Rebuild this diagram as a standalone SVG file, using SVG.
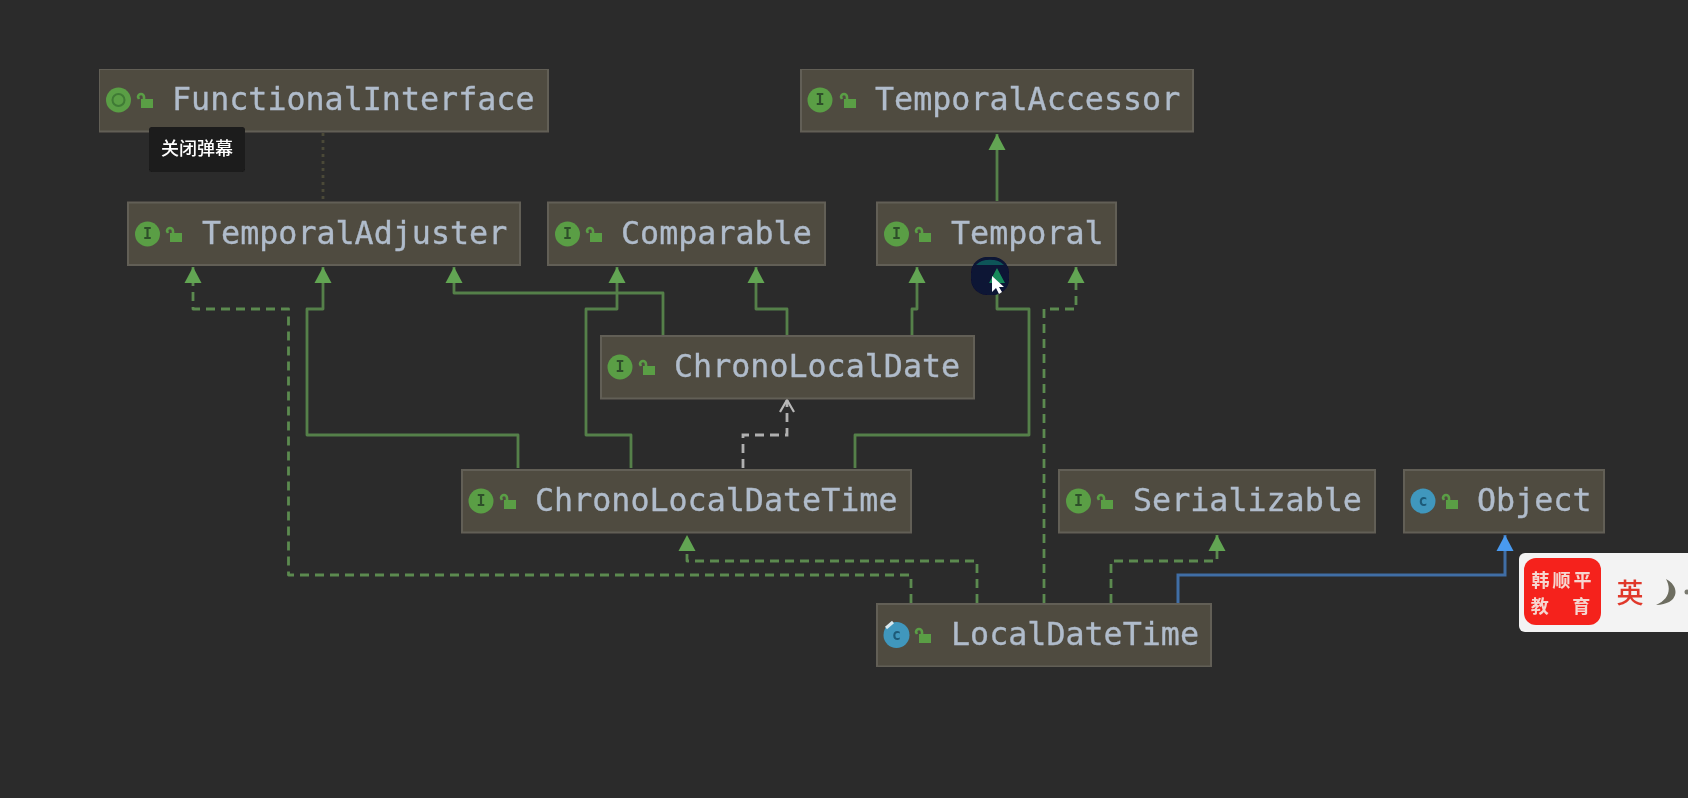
<svg xmlns="http://www.w3.org/2000/svg" width="1688" height="798" viewBox="0 0 1688 798">
<style>
.box{fill:#4f4b40;stroke:#625f57;stroke-width:2}
.lbl{font-family:"DejaVu Sans Mono","Liberation Mono",monospace;font-size:31.7px;fill:#b0bccb;stroke:#b0bccb;stroke-width:0.35}
.ico{font-family:"DejaVu Sans Mono",monospace;font-size:15px;font-weight:bold;text-anchor:middle}
.g{fill:#5a9e45}.b{fill:#3f97bd}
.e{fill:none;stroke:#55804a;stroke-width:2.8;stroke-linejoin:round}
.d{stroke-dasharray:9 6;stroke:#5b8a50}
.w{fill:none;stroke:#b0b0b0;stroke-width:2.8;stroke-dasharray:9 6}
.bl{fill:none;stroke:#3f6ea6;stroke-width:3}
.cn{font-family:"Noto Sans CJK SC",sans-serif;text-anchor:middle}
</style>
<defs>
<filter id="soft" x="0" y="0" width="100%" height="100%"><feGaussianBlur stdDeviation="0.75"/></filter>
<marker id="ga" markerUnits="userSpaceOnUse" markerWidth="18" markerHeight="18" refX="16" refY="9" orient="auto"><path d="M16 9L0 0.5V17.5Z" fill="#62a552"/></marker>
<marker id="ba" markerUnits="userSpaceOnUse" markerWidth="18" markerHeight="18" refX="16" refY="9" orient="auto"><path d="M16 9L0 0.5V17.5Z" fill="#4a9af0"/></marker>
<marker id="oa" markerUnits="userSpaceOnUse" markerWidth="18" markerHeight="18" refX="15" refY="9" orient="auto"><path d="M3 2L15 9L3 16" fill="none" stroke="#b8b8b8" stroke-width="2.2"/></marker>
<g id="lock"><rect x="-4" y="-2" width="12" height="9" fill="#5a9e45"/><path d="M-1 -1V-4A3 3 0 0 0 -7 -4L-6 -2" fill="none" stroke="#5a9e45" stroke-width="2.6"/></g>
</defs>
<rect width="1688" height="798" fill="#2b2b2b"/>
<g filter="url(#soft)">
<g id="connectors">
<path class="e" d="M323 133V201" style="stroke:#4b4a38;stroke-dasharray:3 4"/>
<path class="e" d="M997 201V134" marker-end="url(#ga)"/>
<path class="e d" d="M911 603V575H288.500V309H193V267" marker-end="url(#ga)"/>
<path class="e" d="M518 468V435H307V309H323V267" marker-end="url(#ga)"/>
<path class="e" d="M663 335V293H454V267" marker-end="url(#ga)"/>
<path class="e" d="M631 468V435H586V309H617V267" marker-end="url(#ga)"/>
<path class="e" d="M787 335V309H756V267" marker-end="url(#ga)"/>
<path class="e" d="M912 335V309H917V267" marker-end="url(#ga)"/>
<path class="e" d="M855 468V435H1029V309H997V267" marker-end="url(#ga)"/>
<path class="e d" d="M1044 603V309H1076V267" marker-end="url(#ga)"/>
<path class="w" d="M743 468V435H787V400" marker-end="url(#oa)"/>
<path class="e d" d="M977 603V561H687V535" marker-end="url(#ga)"/>
<path class="e d" d="M1111 603V561H1217V535" marker-end="url(#ga)"/>
<path class="bl" d="M1178 603V575H1505V535" marker-end="url(#ba)"/>
</g>
<g id="n-functionalinterface"><rect class="box" x="99" y="69" width="449" height="62.500"/><circle class="g" cx="118.500" cy="100" r="12.500"/><circle cx="118.500" cy="100" r="6" fill="none" stroke="#3f7a35" stroke-width="2"/><use href="#lock" x="145" y="101"/><text class="lbl" x="172" y="110">FunctionalInterface</text></g>
<g id="n-temporalaccessor"><rect class="box" x="801" y="69" width="392" height="62.500"/><circle class="g" cx="820" cy="100" r="12.500"/><text class="ico" x="820" y="105" fill="#2f4f2a">I</text><use href="#lock" x="848" y="101"/><text class="lbl" x="875" y="110">TemporalAccessor</text></g>
<g id="n-temporaladjuster"><rect class="box" x="128" y="202.500" width="392" height="62.500"/><circle class="g" cx="147.500" cy="234" r="12.500"/><text class="ico" x="147.500" y="239" fill="#2f4f2a">I</text><use href="#lock" x="174" y="235"/><text class="lbl" x="202" y="244">TemporalAdjuster</text></g>
<g id="n-comparable"><rect class="box" x="548" y="202.500" width="277" height="62.500"/><circle class="g" cx="567.500" cy="234" r="12.500"/><text class="ico" x="567.500" y="239" fill="#2f4f2a">I</text><use href="#lock" x="594" y="235"/><text class="lbl" x="621" y="244">Comparable</text></g>
<g id="n-temporal"><rect class="box" x="877" y="202.500" width="239" height="62.500"/><circle class="g" cx="896.500" cy="234" r="12.500"/><text class="ico" x="896.500" y="239" fill="#2f4f2a">I</text><use href="#lock" x="923" y="235"/><text class="lbl" x="951" y="244">Temporal</text></g>
<g id="n-chronolocaldate"><rect class="box" x="601" y="336" width="373" height="62.500"/><circle class="g" cx="620" cy="367" r="12.500"/><text class="ico" x="620" y="372" fill="#2f4f2a">I</text><use href="#lock" x="647" y="368"/><text class="lbl" x="674" y="377">ChronoLocalDate</text></g>
<g id="n-chronolocaldatetime"><rect class="box" x="462" y="470" width="449" height="62.500"/><circle class="g" cx="481" cy="501" r="12.500"/><text class="ico" x="481" y="506" fill="#2f4f2a">I</text><use href="#lock" x="508" y="502"/><text class="lbl" x="535" y="511">ChronoLocalDateTime</text></g>
<g id="n-serializable"><rect class="box" x="1059" y="470" width="316" height="62.500"/><circle class="g" cx="1078.500" cy="501" r="12.500"/><text class="ico" x="1078.500" y="506" fill="#2f4f2a">I</text><use href="#lock" x="1105" y="502"/><text class="lbl" x="1133" y="511">Serializable</text></g>
<g id="n-object"><rect class="box" x="1404" y="470" width="200" height="62.500"/><circle class="b" cx="1423" cy="501" r="12.500"/><text class="ico" x="1423" y="506" fill="#1f5a78">c</text><use href="#lock" x="1450" y="502"/><text class="lbl" x="1477" y="511">Object</text></g>
<g id="n-localdatetime"><rect class="box" x="877" y="604" width="334" height="62.500"/><circle class="b" cx="896.500" cy="635" r="13"/><text class="ico" x="896.500" y="640" fill="#1f5a78">c</text><path d="M886 628L893 622" stroke="#d8e8ee" stroke-width="3"/><use href="#lock" x="923" y="636"/><text class="lbl" x="951" y="645">LocalDateTime</text></g>
<g id="tooltip"><rect x="149" y="127" width="96" height="45" rx="3" fill="#1a1a1a"/><text class="cn" x="197" y="155" font-size="18" font-weight="500" fill="#fff">关闭弹幕</text></g>
<g id="cursor"><rect x="971" y="257" width="38" height="38" rx="16" fill="#0a1234"/><path d="M976 265A16 10 0 0 1 1004 265Z" fill="#0b5458"/><path d="M997 268L989 283H1005Z" fill="#158a5a"/><path d="M992 276V292L996 288L999 294L1002 292L999 287H1004Z" fill="#fff"/></g>
<g id="widget"><rect x="1519" y="553" width="180" height="79" rx="6" fill="#f3f3f3"/><rect x="1524" y="558" width="77" height="67" rx="12" fill="#f5231c"/><text class="cn" x="1563" y="587" font-size="18" font-weight="700" letter-spacing="3" fill="#f6d6d0">韩顺平</text><text class="cn" x="1562" y="613" font-size="18" font-weight="700" letter-spacing="3" word-spacing="13.500" fill="#f6d6d0">教 育</text><text class="cn" x="1630" y="603" font-size="27" font-weight="500" fill="#e0392c">英</text><path d="M1666 579C1680 586 1680 604 1656 605C1668 600 1672 590 1666 579Z" fill="#6d6d60"/><circle cx="1687" cy="592" r="2.500" fill="#7a7a70"/></g>
</g>
</svg>
